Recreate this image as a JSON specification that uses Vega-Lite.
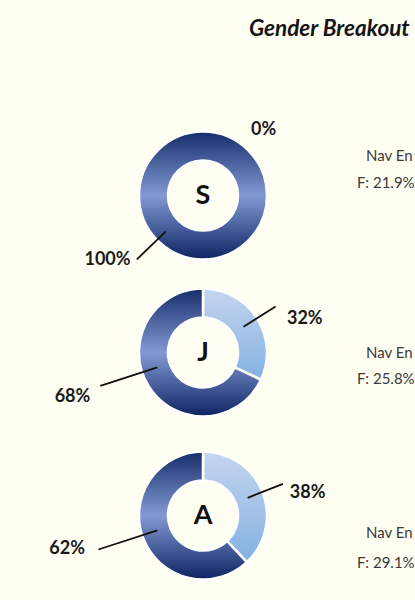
{
  "$schema": "https://vega.github.io/schema/vega-lite/v6.json",
  "background": "#fffef3",
  "padding": {"top": 17, "left": 0, "right": 0, "bottom": 0},
  "bounds": "flush",
  "title": {"text": "Gender Breakout", "anchor": "end", "font": "Lato", "fontSize": 22.5, "fontWeight": "bold", "fontStyle": "italic", "color": "#151515", "offset": 77, "dx": -5},
  "config": {"view": {"stroke": null}},
  "spacing": 0,
  "datasets": {
    "gender": [
      {"class": "S", "gender": "F", "share": 0.0},
      {"class": "S", "gender": "M", "share": 1.0},
      {"class": "J", "gender": "F", "share": 0.32},
      {"class": "J", "gender": "M", "share": 0.68},
      {"class": "A", "gender": "F", "share": 0.38},
      {"class": "A", "gender": "M", "share": 0.62}
    ],
    "navy": [
      {"class": "S", "group": "Nav En", "female": "F: 21.9%"},
      {"class": "J", "group": "Nav En", "female": "F: 25.8%"},
      {"class": "A", "group": "Nav En", "female": "F: 29.1%"}
    ]
  },
  "vconcat": [
    {
      "width": 406, "height": 157,
      "data": {"name": "gender"},
      "transform": [{"filter": "datum.class === 'S'"}],
      "resolve": {"scale": {"theta": "independent"}},
      "layer": [
        {
          "mark": {"type": "arc", "outerRadius": 64, "innerRadius": 35, "stroke": "#ffffff", "strokeWidth": 2.5},
          "encoding": {
            "theta": {"field": "share", "type": "quantitative", "stack": true},
            "order": {"field": "gender", "type": "nominal", "sort": "ascending"},
            "fill": {
              "condition": {"test": "datum.gender === 'F'", "value": {"gradient": "linear", "x1": 0, "y1": 0, "x2": 0, "y2": 1, "stops": [{"offset": 0, "color": "#c5d5ee"}, {"offset": 1, "color": "#84b1e2"}]}},
              "value": {"gradient": "linear", "x1": 0, "y1": 0, "x2": 0, "y2": 1, "stops": [{"offset": 0, "color": "#162d6a"}, {"offset": 0.5, "color": "#8299d3"}, {"offset": 1, "color": "#0e2462"}]}
            }
          }
        },
        {
          "transform": [{"filter": "datum.gender === 'M'"}],
          "mark": {"type": "arc", "innerRadius": 52, "outerRadius": 92, "padAngle": 3.14, "fill": null, "stroke": "#111111", "strokeWidth": 1.8},
          "encoding": {
            "theta": {"field": "share", "type": "quantitative", "stack": true, "scale": {"domain": [0, 1], "range": [3.444, 4.444]}}
          }
        },
        {
          "transform": [{"filter": "datum.gender === 'F'"}],
          "mark": {"type": "text", "radius": 66, "dx": 48, "align": "left", "font": "Lato", "fontSize": 18, "fontWeight": "bold", "color": "#1a1a1a"},
          "encoding": {
            "theta": {"field": "share", "type": "quantitative", "stack": true, "scale": {"domain": [0, 1]}},
            "text": {"field": "share", "type": "quantitative", "format": ".0%"}
          }
        },
        {
          "transform": [{"filter": "datum.gender === 'M'"}],
          "mark": {"type": "text", "radius": 115, "font": "Lato", "fontSize": 18, "fontWeight": "bold", "color": "#1a1a1a"},
          "encoding": {
            "theta": {"field": "share", "type": "quantitative", "stack": true, "bandPosition": 0.656, "scale": {"domain": [0, 1]}},
            "text": {"field": "share", "type": "quantitative", "format": ".0%"}
          }
        },
        {
          "transform": [{"filter": "datum.gender === 'M'"}],
          "mark": {"type": "text", "font": "Lato", "fontSize": 27, "fontWeight": "bold", "color": "#111111"},
          "encoding": {"text": {"field": "class", "type": "nominal"}}
        },
        {
          "data": {"name": "navy"},
          "transform": [{"filter": "datum.class === 'S'"}],
          "mark": {"type": "text", "align": "left", "dx": 163, "dy": -40, "font": "Lato", "fontSize": 15, "color": "#3a3a3a"},
          "encoding": {"text": {"field": "group", "type": "nominal"}}
        },
        {
          "data": {"name": "navy"},
          "transform": [{"filter": "datum.class === 'S'"}],
          "mark": {"type": "text", "align": "left", "dx": 154, "dy": -13, "font": "Lato", "fontSize": 15, "color": "#3a3a3a"},
          "encoding": {"text": {"field": "female", "type": "nominal"}}
        }
      ]
    },
    {
      "width": 406, "height": 157,
      "data": {"name": "gender"},
      "transform": [{"filter": "datum.class === 'J'"}],
      "resolve": {"scale": {"theta": "independent"}},
      "layer": [
        {
          "mark": {"type": "arc", "outerRadius": 64, "innerRadius": 35, "stroke": "#ffffff", "strokeWidth": 2.5},
          "encoding": {
            "theta": {"field": "share", "type": "quantitative", "stack": true},
            "order": {"field": "gender", "type": "nominal", "sort": "ascending"},
            "fill": {
              "condition": {"test": "datum.gender === 'F'", "value": {"gradient": "linear", "x1": 0, "y1": 0, "x2": 0, "y2": 1, "stops": [{"offset": 0, "color": "#c5d5ee"}, {"offset": 1, "color": "#84b1e2"}]}},
              "value": {"gradient": "linear", "x1": 0, "y1": 0, "x2": 0, "y2": 1, "stops": [{"offset": 0, "color": "#162d6a"}, {"offset": 0.5, "color": "#8299d3"}, {"offset": 1, "color": "#0e2462"}]}
            }
          }
        },
        {
          "mark": {"type": "arc", "innerRadius": 48, "outerRadius": 86, "padAngle": 3.14, "fill": null, "stroke": "#111111", "strokeWidth": 1.8},
          "encoding": {
            "theta": {"field": "share", "type": "quantitative", "stack": true},
            "order": {"field": "gender", "type": "nominal", "sort": "ascending"},
            "strokeOpacity": {"condition": {"test": "datum.gender === 'F'", "value": 1}, "value": 0}
          }
        },
        {
          "mark": {"type": "arc", "innerRadius": 48, "outerRadius": 108, "padAngle": 3.14, "fill": null, "stroke": "#111111", "strokeWidth": 1.8},
          "encoding": {
            "theta": {"field": "share", "type": "quantitative", "stack": true, "scale": {"domain": [0, 1], "range": [3.738, 4.738]}},
            "order": {"field": "gender", "type": "nominal", "sort": "ascending"},
            "strokeOpacity": {"condition": {"test": "datum.gender === 'M'", "value": 1}, "value": 0}
          }
        },
        {
          "mark": {"type": "text", "radius": 107, "font": "Lato", "fontSize": 18, "fontWeight": "bold", "color": "#1a1a1a"},
          "encoding": {
            "theta": {"field": "share", "type": "quantitative", "stack": true, "bandPosition": 0.625},
            "order": {"field": "gender", "type": "nominal", "sort": "ascending"},
            "text": {"field": "share", "type": "quantitative", "format": ".0%"},
            "opacity": {"condition": {"test": "datum.gender === 'F'", "value": 1}, "value": 0}
          }
        },
        {
          "mark": {"type": "text", "radius": 138, "font": "Lato", "fontSize": 18, "fontWeight": "bold", "color": "#1a1a1a"},
          "encoding": {
            "theta": {"field": "share", "type": "quantitative", "stack": true, "bandPosition": 0.555},
            "order": {"field": "gender", "type": "nominal", "sort": "ascending"},
            "text": {"field": "share", "type": "quantitative", "format": ".0%"},
            "opacity": {"condition": {"test": "datum.gender === 'M'", "value": 1}, "value": 0}
          }
        },
        {
          "transform": [{"filter": "datum.gender === 'M'"}],
          "mark": {"type": "text", "font": "Lato", "fontSize": 27, "fontWeight": "bold", "color": "#111111"},
          "encoding": {"text": {"field": "class", "type": "nominal"}}
        },
        {
          "data": {"name": "navy"},
          "transform": [{"filter": "datum.class === 'J'"}],
          "mark": {"type": "text", "align": "left", "dx": 163, "dy": 0, "font": "Lato", "fontSize": 15, "color": "#3a3a3a"},
          "encoding": {"text": {"field": "group", "type": "nominal"}}
        },
        {
          "data": {"name": "navy"},
          "transform": [{"filter": "datum.class === 'J'"}],
          "mark": {"type": "text", "align": "left", "dx": 154, "dy": 26, "font": "Lato", "fontSize": 15, "color": "#3a3a3a"},
          "encoding": {"text": {"field": "female", "type": "nominal"}}
        }
      ]
    },
    {
      "width": 406, "height": 169,
      "data": {"name": "gender"},
      "transform": [{"filter": "datum.class === 'A'"}],
      "resolve": {"scale": {"theta": "independent"}},
      "layer": [
        {
          "mark": {"type": "arc", "outerRadius": 64, "innerRadius": 35, "stroke": "#ffffff", "strokeWidth": 2.5},
          "encoding": {
            "theta": {"field": "share", "type": "quantitative", "stack": true},
            "order": {"field": "gender", "type": "nominal", "sort": "ascending"},
            "fill": {
              "condition": {"test": "datum.gender === 'F'", "value": {"gradient": "linear", "x1": 0, "y1": 0, "x2": 0, "y2": 1, "stops": [{"offset": 0, "color": "#c5d5ee"}, {"offset": 1, "color": "#84b1e2"}]}},
              "value": {"gradient": "linear", "x1": 0, "y1": 0, "x2": 0, "y2": 1, "stops": [{"offset": 0, "color": "#162d6a"}, {"offset": 0.5, "color": "#8299d3"}, {"offset": 1, "color": "#0e2462"}]}
            }
          }
        },
        {
          "mark": {"type": "arc", "innerRadius": 48, "outerRadius": 86, "padAngle": 3.14, "fill": null, "stroke": "#111111", "strokeWidth": 1.8},
          "encoding": {
            "theta": {"field": "share", "type": "quantitative", "stack": true},
            "order": {"field": "gender", "type": "nominal", "sort": "ascending"},
            "strokeOpacity": {"condition": {"test": "datum.gender === 'F'", "value": 1}, "value": 0}
          }
        },
        {
          "mark": {"type": "arc", "innerRadius": 48, "outerRadius": 110, "padAngle": 3.14, "fill": null, "stroke": "#111111", "strokeWidth": 1.8},
          "encoding": {
            "theta": {"field": "share", "type": "quantitative", "stack": true, "scale": {"domain": [0, 1], "range": [3.708, 4.708]}},
            "order": {"field": "gender", "type": "nominal", "sort": "ascending"},
            "strokeOpacity": {"condition": {"test": "datum.gender === 'M'", "value": 1}, "value": 0}
          }
        },
        {
          "mark": {"type": "text", "radius": 107, "font": "Lato", "fontSize": 18, "fontWeight": "bold", "color": "#1a1a1a"},
          "encoding": {
            "theta": {"field": "share", "type": "quantitative", "stack": true, "bandPosition": 0.57},
            "order": {"field": "gender", "type": "nominal", "sort": "ascending"},
            "text": {"field": "share", "type": "quantitative", "format": ".0%"},
            "opacity": {"condition": {"test": "datum.gender === 'F'", "value": 1}, "value": 0}
          }
        },
        {
          "mark": {"type": "text", "radius": 140, "font": "Lato", "fontSize": 18, "fontWeight": "bold", "color": "#1a1a1a"},
          "encoding": {
            "theta": {"field": "share", "type": "quantitative", "stack": true, "bandPosition": 0.534},
            "order": {"field": "gender", "type": "nominal", "sort": "ascending"},
            "text": {"field": "share", "type": "quantitative", "format": ".0%"},
            "opacity": {"condition": {"test": "datum.gender === 'M'", "value": 1}, "value": 0}
          }
        },
        {
          "transform": [{"filter": "datum.gender === 'M'"}],
          "mark": {"type": "text", "font": "Lato", "fontSize": 27, "fontWeight": "bold", "color": "#111111"},
          "encoding": {"text": {"field": "class", "type": "nominal"}}
        },
        {
          "data": {"name": "navy"},
          "transform": [{"filter": "datum.class === 'A'"}],
          "mark": {"type": "text", "align": "left", "dx": 163, "dy": 17, "font": "Lato", "fontSize": 15, "color": "#3a3a3a"},
          "encoding": {"text": {"field": "group", "type": "nominal"}}
        },
        {
          "data": {"name": "navy"},
          "transform": [{"filter": "datum.class === 'A'"}],
          "mark": {"type": "text", "align": "left", "dx": 154, "dy": 47, "font": "Lato", "fontSize": 15, "color": "#3a3a3a"},
          "encoding": {"text": {"field": "female", "type": "nominal"}}
        }
      ]
    }
  ]
}
